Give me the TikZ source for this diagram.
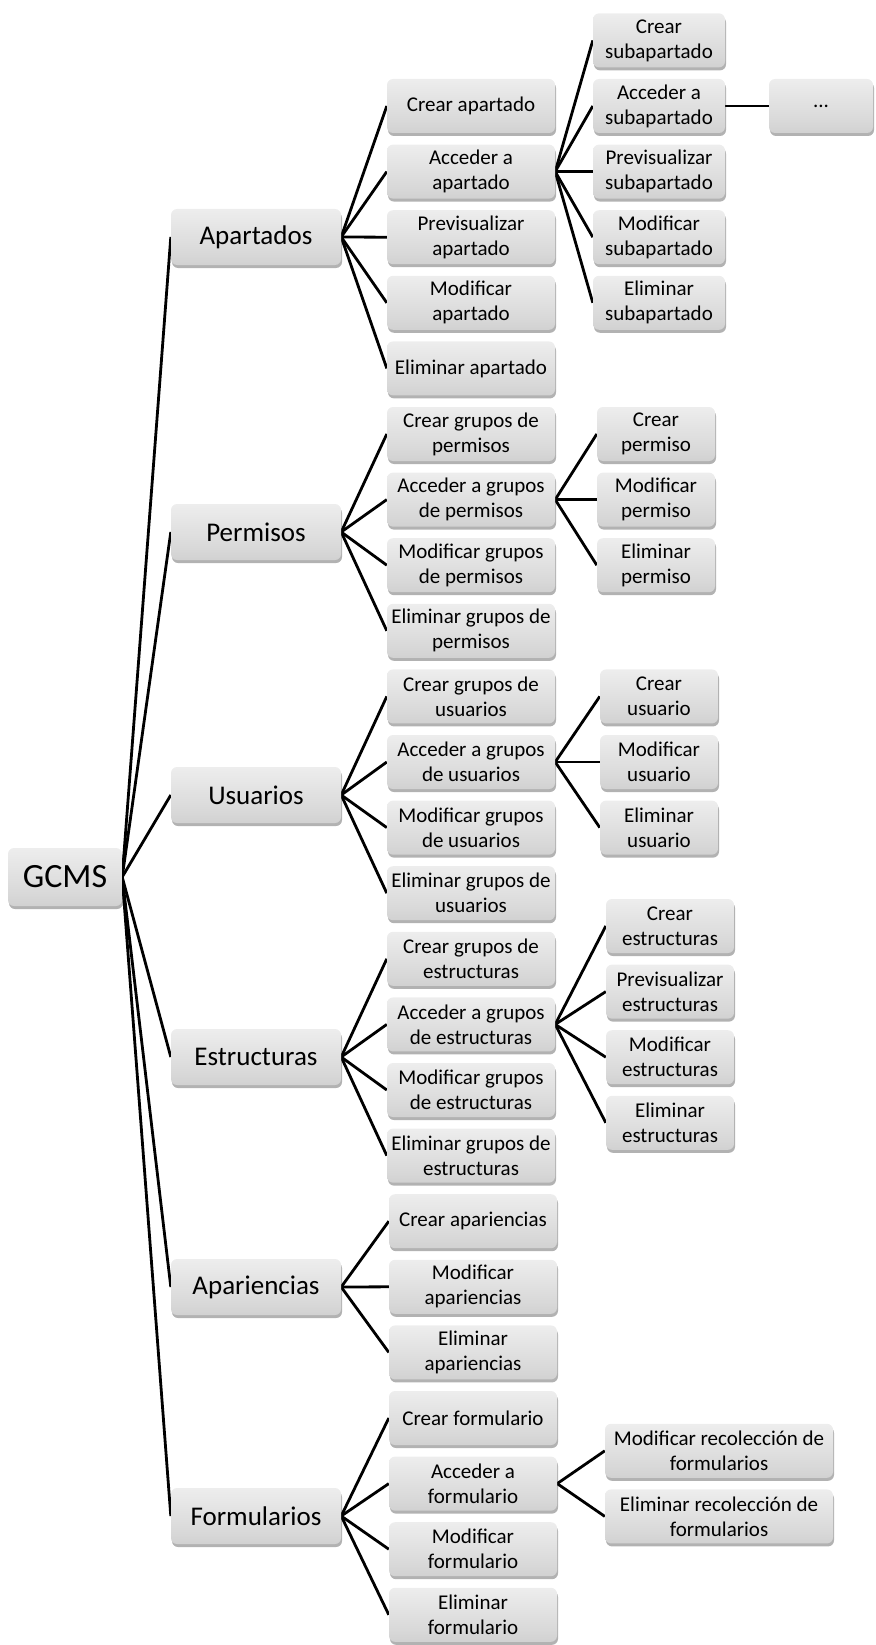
\documentclass[tikz,border=0pt]{standalone}
\usepackage{fontspec}
\setmainfont{Carlito}
\usetikzlibrary{shadows,backgrounds}
\definecolor{boxbot}{RGB}{192,192,192}
\definecolor{boxmid}{RGB}{216,216,216}
\definecolor{boxhi}{RGB}{240,240,240}
\pgfdeclareverticalshading{glossy}{100bp}{color(0bp)=(boxbot); color(35bp)=(boxmid); color(80bp)=(boxhi); color(100bp)=(white)}
\tikzset{
  box/.style={rounded corners=6pt, shading=glossy, align=center, inner sep=0pt,
    minimum height=54pt, text=black,
    drop shadow={shadow xshift=1pt, shadow yshift=-3pt, opacity=0.3, fill=black},
    font=\fontsize{21}{25}\selectfont},
  rootbox/.style={box, minimum width=114pt, minimum height=58pt, font=\fontsize{34}{40}\selectfont},
  lone/.style={box, minimum width=170pt, minimum height=56pt, font=\fontsize{27}{32}\selectfont},
  ltwo/.style={box, minimum width=168pt},
  conn/.style={line width=2.8pt, black}
}
\begin{document}
\begin{tikzpicture}[x=1pt,y=-1pt]
\useasboundingbox (0,0) rectangle (875,1645);
% root
\node[rootbox] (g) at (65,877) {GCMS};
% level 1
\node[lone] (A) at (256,237) {Apartados};
\node[lone] (P) at (256,532) {Permisos};
\node[lone] (U) at (256,795) {Usuarios};
\node[lone] (E) at (256,1057) {Estructuras};
\node[lone] (Ap) at (256,1287) {Apariencias};
\node[lone] (F) at (256,1516) {Formularios};
% level 2
\node[ltwo] (a1) at (471,106) {Crear apartado};
\node[ltwo] (a2) at (471,171.6) {Acceder a\\apartado};
\node[ltwo] (a3) at (471,237.2) {Previsualizar\\apartado};
\node[ltwo] (a4) at (471,302.8) {Modificar\\apartado};
\node[ltwo] (a5) at (471,368.4) {Eliminar apartado};
\node[ltwo] (p1) at (471,434) {Crear grupos de\\permisos};
\node[ltwo] (p2) at (471,499.6) {Acceder a grupos\\de permisos};
\node[ltwo] (p3) at (471,565.2) {Modificar grupos\\de permisos};
\node[ltwo] (p4) at (471,630.8) {Eliminar grupos de\\permisos};
\node[ltwo] (u1) at (471,696.4) {Crear grupos de\\usuarios};
\node[ltwo] (u2) at (471,762) {Acceder a grupos\\de usuarios};
\node[ltwo] (u3) at (471,827.6) {Modificar grupos\\de usuarios};
\node[ltwo] (u4) at (471,893.2) {Eliminar grupos de\\usuarios};
\node[ltwo] (e1) at (471,958.8) {Crear grupos de\\estructuras};
\node[ltwo] (e2) at (471,1024.4) {Acceder a grupos\\de estructuras};
\node[ltwo] (e3) at (471,1090) {Modificar grupos\\de estructuras};
\node[ltwo] (e4) at (471,1155.6) {Eliminar grupos de\\estructuras};
\node[ltwo] (ap1) at (473,1221.2) {Crear apariencias};
\node[ltwo] (ap2) at (473,1286.8) {Modificar\\apariencias};
\node[ltwo] (ap3) at (473,1352.4) {Eliminar\\apariencias};
\node[ltwo] (f1) at (473,1418) {Crear formulario};
\node[ltwo] (f2) at (473,1483.6) {Acceder a\\formulario};
\node[ltwo] (f3) at (473,1549.2) {Modificar\\formulario};
\node[ltwo] (f4) at (473,1614.8) {Eliminar\\formulario};
% level 3
\node[box, minimum width=132pt] (s1) at (659,40.4) {Crear\\subapartado};
\node[box, minimum width=132pt] (s2) at (659,106) {Acceder a\\subapartado};
\node[box, minimum width=132pt] (s3) at (659,171.6) {Previsualizar\\subapartado};
\node[box, minimum width=132pt] (s4) at (659,237.2) {Modificar\\subapartado};
\node[box, minimum width=132pt] (s5) at (659,302.8) {Eliminar\\subapartado};
\node[box, minimum width=104pt] (dots) at (821,106) {...};
\node[box, minimum width=118pt] (q1) at (656,434) {Crear\\permiso};
\node[box, minimum width=118pt] (q2) at (656,499.6) {Modificar\\permiso};
\node[box, minimum width=118pt] (q3) at (656,565.2) {Eliminar\\permiso};
\node[box, minimum width=118pt] (v1) at (659,696.4) {Crear\\usuario};
\node[box, minimum width=118pt] (v2) at (659,762) {Modificar\\usuario};
\node[box, minimum width=118pt] (v3) at (659,827.6) {Eliminar\\usuario};
\node[box, minimum width=128pt] (t1) at (670,926) {Crear\\estructuras};
\node[box, minimum width=128pt] (t2) at (670,991.6) {Previsualizar\\estructuras};
\node[box, minimum width=128pt] (t3) at (670,1057.2) {Modificar\\estructuras};
\node[box, minimum width=128pt] (t4) at (670,1122.8) {Eliminar\\estructuras};
\node[box, minimum width=228pt] (r1) at (719,1450.8) {Modificar recolección de\\formularios};
\node[box, minimum width=228pt] (r2) at (719,1516.4) {Eliminar recolección de\\formularios};
% connectors
\begin{scope}[on background layer]
\foreach \n in {A,P,U,E,Ap,F} \draw[conn] (g.east) -- (\n.west);
\foreach \n in {a1,a2,a3,a4,a5} \draw[conn] (A.east) -- (\n.west);
\foreach \n in {p1,p2,p3,p4} \draw[conn] (P.east) -- (\n.west);
\foreach \n in {u1,u2,u3,u4} \draw[conn] (U.east) -- (\n.west);
\foreach \n in {e1,e2,e3,e4} \draw[conn] (E.east) -- (\n.west);
\foreach \n in {ap1,ap2,ap3} \draw[conn] (Ap.east) -- (\n.west);
\foreach \n in {f1,f2,f3,f4} \draw[conn] (F.east) -- (\n.west);
\foreach \n in {s1,s2,s3,s4,s5} \draw[conn] (a2.east) -- (\n.west);
\draw[conn] (s2.east) -- (dots.west);
\foreach \n in {q1,q2,q3} \draw[conn] (p2.east) -- (\n.west);
\foreach \n in {v1,v2,v3} \draw[conn] (u2.east) -- (\n.west);
\foreach \n in {t1,t2,t3,t4} \draw[conn] (e2.east) -- (\n.west);
\foreach \n in {r1,r2} \draw[conn] (f2.east) -- (\n.west);
\end{scope}
\end{tikzpicture}
\end{document}
